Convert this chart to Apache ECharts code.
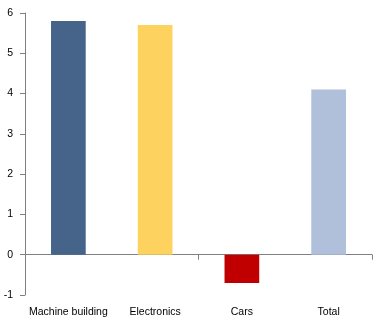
<!DOCTYPE html>
<html>
<head>
<meta charset="utf-8">
<style>
  html, body { margin: 0; padding: 0; background: #fff; }
  #chart { width: 378px; height: 324px; }
</style>
<script src="https://cdn.jsdelivr.net/npm/echarts@6/dist/echarts.min.js"></script>
</head>
<body>
<div id="chart"></div>
<script>
// Sector values
const categories = ['Machine building', 'Electronics', 'Cars', 'Total'];
const values = [5.8, 5.7, -0.7, 4.1];
const barColors = ['#46648a', '#fdd25e', '#c00000', '#b0c0da'];

const axisGrey = '#808080';
const labelFont = { fontFamily: 'Liberation Sans, Arial, sans-serif', fontSize: 10.5, color: '#000' };

const chart = echarts.init(document.getElementById('chart'), null, { renderer: 'canvas' });
chart.setOption({
  animation: false,
  grid: { left: 25, right: 6, top: 13, bottom: 29, containLabel: false, outerBoundsMode: 'none' },
  xAxis: [
    {
      // category names along the bottom edge
      type: 'category',
      data: categories,
      position: 'bottom',
      axisLine: { show: false, onZero: false },
      axisTick: { show: false },
      axisLabel: Object.assign({ margin: 12, interval: 0 }, labelFont)
    },
    {
      // baseline at zero with downward ticks between categories
      type: 'category',
      data: categories,
      position: 'top',
      axisLine: { show: true, onZero: true, lineStyle: { color: axisGrey, width: 1 } },
      axisTick: { show: true, inside: true, length: 5, lineStyle: { color: axisGrey } },
      axisLabel: { show: false }
    }
  ],
  yAxis: {
    type: 'value',
    min: -1,
    max: 6,
    interval: 1,
    axisLine: { show: true, onZero: false, lineStyle: { color: axisGrey, width: 1 } },
    axisTick: { show: true, length: 5, lineStyle: { color: axisGrey } },
    splitLine: { show: false },
    axisLabel: Object.assign({ margin: 12 }, labelFont)
  },
  series: [{
    type: 'bar',
    xAxisIndex: 0,
    barWidth: '40%',
    data: values.map((v, i) => ({ value: v, itemStyle: { color: barColors[i] } }))
  }]
});
</script>
</body>
</html>
